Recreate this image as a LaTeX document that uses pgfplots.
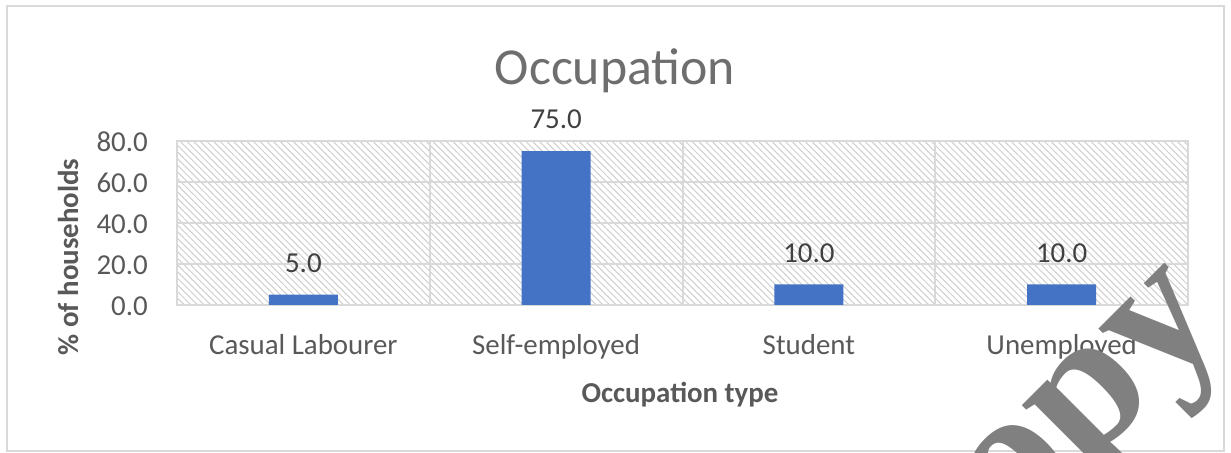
\documentclass[border=0pt]{standalone}
\usepackage{fontspec}
\setmainfont{Carlito}
\newfontfamily\wmfont{Liberation Serif}
\usepackage{pgfplots}
\pgfplotsset{compat=1.18}
\usetikzlibrary{patterns.meta}
\definecolor{barblue}{HTML}{4472C4}
\definecolor{txtgray}{HTML}{595959}
\definecolor{lblgray}{HTML}{404040}
\definecolor{titlegray}{HTML}{6E6E6E}
\definecolor{gridgray}{HTML}{D9D9D9}
\definecolor{hatchgray}{HTML}{CFCFCF}
\begin{document}
\begin{tikzpicture}[x=1bp,y=1bp]
\useasboundingbox (0,0) rectangle (1231,453);
\fill[white] (0,0) rectangle (1231,453);
\draw[gridgray, line width=2bp] (7,2) rectangle (1224,447);
\begin{axis}[
  at={(177bp,148bp)}, anchor=south west,
  scale only axis, width=1011bp, height=164bp,
  ybar, bar width=69bp,
  xmin=-0.5, xmax=3.5, ymin=0, ymax=80,
  ytick={0,20,40,60,80},
  xtick={0,1,2,3},
  xticklabels={Casual Labourer, Self-employed, Student, Unemployed},
  minor xtick={0.5,1.5,2.5},
  ymajorgrids, xminorgrids,
  grid style={gridgray, line width=2bp},
  minor grid style={gridgray, line width=2bp},
  axis line style={gridgray, line width=2bp},
  major tick length=0pt, minor tick length=0pt,
  tick style={draw=none},
  axis background/.style={pattern={Lines[angle=-45,distance=4.7bp,line width=1bp]}, pattern color=hatchgray},
  yticklabel={\pgfmathprintnumber[fixed,fixed zerofill,precision=1,assume math mode=true]{\tick}},
  yticklabel style={anchor=base east, inner sep=0pt, xshift=-29bp, yshift=-11bp, text=txtgray, font=\fontsize{29}{34}\selectfont},
  xticklabel style={anchor=base, inner sep=0pt, yshift=-50bp, text=txtgray, font=\fontsize{29}{34}\selectfont},
  nodes near coords={\pgfmathprintnumber[fixed,fixed zerofill,precision=1,assume math mode=true]{\pgfplotspointmeta}},
  every node near coord/.append style={anchor=south, inner sep=0pt, yshift=22bp, text=lblgray, font=\fontsize{29}{34}\selectfont},
  clip=false,
]
\addplot[fill=barblue, draw=none] coordinates {(0,5) (1,75) (2,10) (3,10)};
\end{axis}
\node[anchor=base, text=titlegray, font=\fontsize{52}{60}\selectfont] at (615,368) {Occupation};
\node[anchor=base, rotate=90, text=txtgray, font=\bfseries\fontsize{29}{34}\selectfont] at (78,196) {\% of households};
\node[anchor=base, text=txtgray, font=\bfseries\fontsize{29}{34}\selectfont] at (680,50) {Occupation type};
\node[anchor=base west, inner sep=0pt, rotate=45, text=gray, font=\wmfont\bfseries\fontsize{195}{200}\selectfont] at (954,-147) {copy};
\end{tikzpicture}
\end{document}
